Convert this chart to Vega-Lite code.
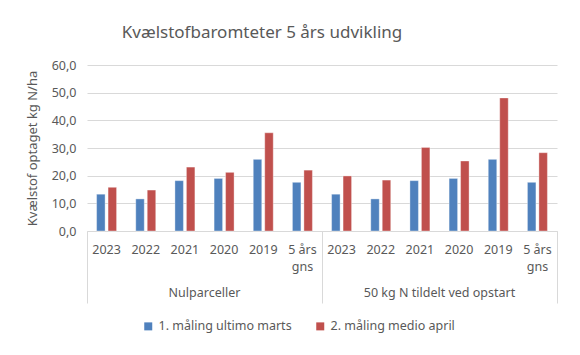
{
  "$schema": "https://vega.github.io/schema/vega-lite/v6.json",
  "autosize": {"type": "none"},
  "width": 470,
  "height": 166,
  "padding": {"left": 87, "top": 65, "right": 23, "bottom": 124},
  "background": "white",
  "config": {
    "font": "Noto Sans",
    "view": {"stroke": null},
    "axis": {"labelColor": "#595959", "titleColor": "#595959", "labelFont": "Noto Sans", "titleFont": "Noto Sans"}
  },
  "title": {
    "text": "Kvælstofbaromteter 5 års udvikling",
    "fontSize": 17,
    "fontWeight": "normal",
    "color": "#595959",
    "font": "Noto Sans",
    "dx": -60,
    "offset": 17
  },
  "data": {
    "values": [
      {"group": "Nulparceller", "key": "A2023", "serie": "1. måling ultimo marts", "value": 13.3},
      {"group": "Nulparceller", "key": "A2023", "serie": "2. måling medio april", "value": 15.8},
      {"group": "Nulparceller", "key": "A2022", "serie": "1. måling ultimo marts", "value": 11.6},
      {"group": "Nulparceller", "key": "A2022", "serie": "2. måling medio april", "value": 14.8},
      {"group": "Nulparceller", "key": "A2021", "serie": "1. måling ultimo marts", "value": 18.2},
      {"group": "Nulparceller", "key": "A2021", "serie": "2. måling medio april", "value": 23.1},
      {"group": "Nulparceller", "key": "A2020", "serie": "1. måling ultimo marts", "value": 19.0},
      {"group": "Nulparceller", "key": "A2020", "serie": "2. måling medio april", "value": 21.2},
      {"group": "Nulparceller", "key": "A2019", "serie": "1. måling ultimo marts", "value": 25.9},
      {"group": "Nulparceller", "key": "A2019", "serie": "2. måling medio april", "value": 35.5},
      {"group": "Nulparceller", "key": "A5 års gns", "serie": "1. måling ultimo marts", "value": 17.6},
      {"group": "Nulparceller", "key": "A5 års gns", "serie": "2. måling medio april", "value": 22.0},
      {"group": "50 kg N tildelt ved opstart", "key": "B2023", "serie": "1. måling ultimo marts", "value": 13.3},
      {"group": "50 kg N tildelt ved opstart", "key": "B2023", "serie": "2. måling medio april", "value": 19.9},
      {"group": "50 kg N tildelt ved opstart", "key": "B2022", "serie": "1. måling ultimo marts", "value": 11.6},
      {"group": "50 kg N tildelt ved opstart", "key": "B2022", "serie": "2. måling medio april", "value": 18.4},
      {"group": "50 kg N tildelt ved opstart", "key": "B2021", "serie": "1. måling ultimo marts", "value": 18.2},
      {"group": "50 kg N tildelt ved opstart", "key": "B2021", "serie": "2. måling medio april", "value": 30.2},
      {"group": "50 kg N tildelt ved opstart", "key": "B2020", "serie": "1. måling ultimo marts", "value": 19.0},
      {"group": "50 kg N tildelt ved opstart", "key": "B2020", "serie": "2. måling medio april", "value": 25.3},
      {"group": "50 kg N tildelt ved opstart", "key": "B2019", "serie": "1. måling ultimo marts", "value": 25.9},
      {"group": "50 kg N tildelt ved opstart", "key": "B2019", "serie": "2. måling medio april", "value": 48.1},
      {"group": "50 kg N tildelt ved opstart", "key": "B5 års gns", "serie": "1. måling ultimo marts", "value": 17.6},
      {"group": "50 kg N tildelt ved opstart", "key": "B5 års gns", "serie": "2. måling medio april", "value": 28.3}
    ]
  },
  "resolve": {"scale": {"x": "independent"}},
  "layer": [
    {
      "mark": {"type": "bar", "stroke": "white", "strokeOpacity": 0.45, "strokeWidth": 0.8},
      "encoding": {
        "x": {
          "field": "key",
          "type": "nominal",
          "sort": null,
          "scale": {"paddingInner": 0.49, "paddingOuter": 0.245},
          "axis": {
            "orient": "bottom",
            "title": null,
            "labelAngle": 0,
            "labelExpr": "indexof(datum.value, 'gns') >= 0 ? ['5 års', 'gns'] : substring(datum.value, 1)",
            "labelFontSize": 12.5,
            "labelLineHeight": 17,
            "labelPadding": 12,
            "ticks": false,
            "domainColor": "#d9d9d9",
            "domainWidth": 1
          }
        },
        "xOffset": {
          "field": "serie",
          "type": "nominal",
          "scale": {"paddingInner": 0.26, "paddingOuter": 0}
        },
        "y": {
          "field": "value",
          "type": "quantitative",
          "scale": {"domain": [0, 60]},
          "axis": {
            "title": "Kvælstof optaget kg N/ha",
            "titleFontSize": 13,
            "titleFontWeight": "normal",
            "titlePadding": 12,
            "values": [0, 10, 20, 30, 40, 50, 60],
            "labelExpr": "replace(format(datum.value, '.1f'), '.', ',')",
            "labelFontSize": 12.5,
            "labelPadding": 11,
            "ticks": false,
            "domain": false,
            "gridColor": "#d9d9d9",
            "gridWidth": 1
          }
        },
        "color": {
          "field": "serie",
          "type": "nominal",
          "scale": {"range": ["#4F81BD", "#C0504D"]},
          "legend": {
            "title": null,
            "orient": "none",
            "direction": "horizontal",
            "legendX": 55,
            "legendY": 255,
            "symbolType": "square",
            "symbolSize": 64,
            "symbolStrokeWidth": 0,
            "labelFontSize": 12.5,
            "labelColor": "#595959",
            "labelFont": "Noto Sans",
            "columnPadding": 22,
            "labelOffset": 4
          }
        }
      }
    },
    {
      "mark": {"type": "bar", "opacity": 0},
      "encoding": {
        "x": {
          "field": "group",
          "type": "nominal",
          "sort": null,
          "scale": {"paddingInner": 0, "paddingOuter": 0},
          "axis": {
            "orient": "bottom",
            "title": null,
            "labelAngle": 0,
            "domain": false,
            "bandPosition": 1,
            "tickExtra": true,
            "tickSize": 72,
            "tickColor": "#d9d9d9",
            "tickWidth": 1,
            "labelPadding": -17,
            "labelFontSize": 12.5,
            "labelColor": "#595959",
            "grid": false
          }
        }
      }
    }
  ]
}
